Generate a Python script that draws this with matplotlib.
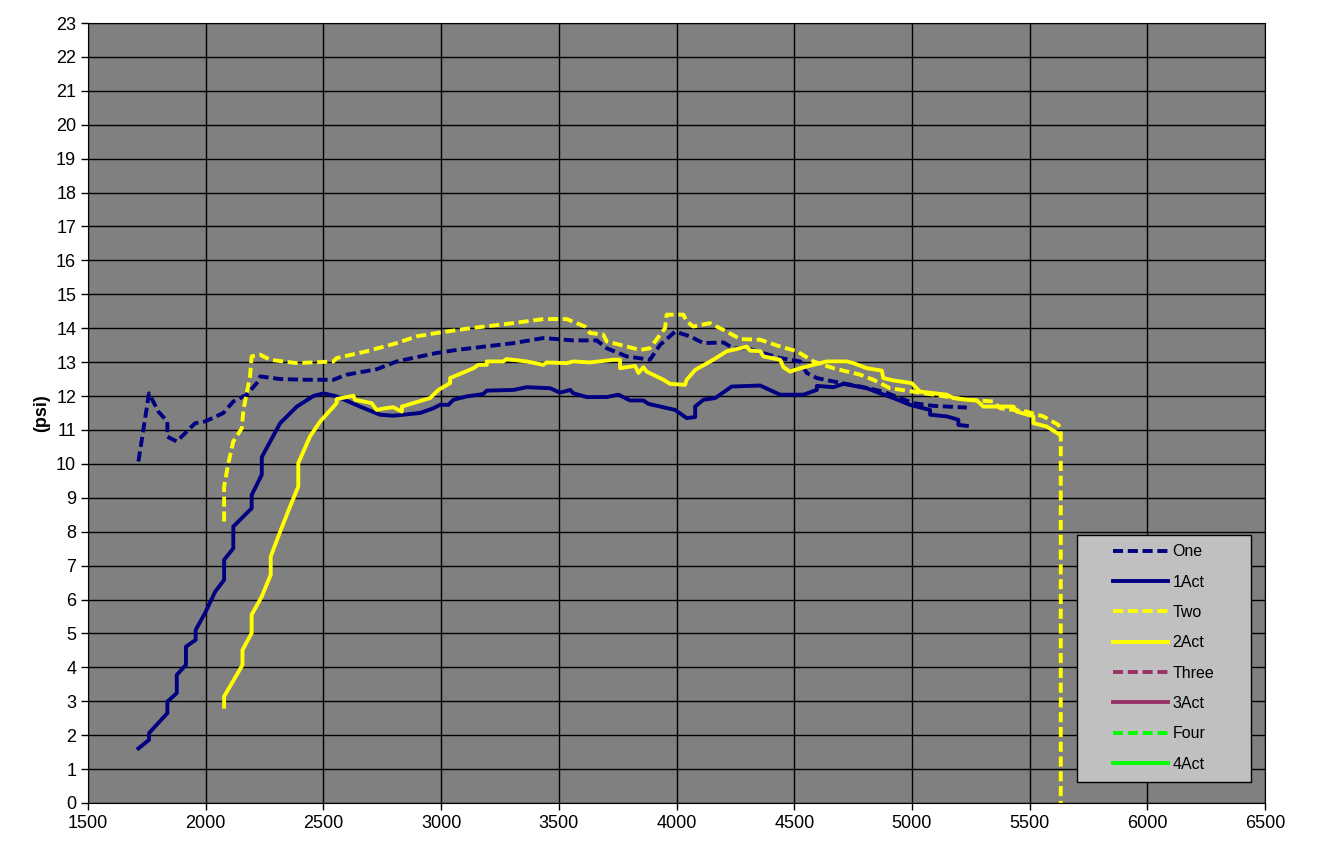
import matplotlib
matplotlib.use("Agg")
import matplotlib.pyplot as plt
from matplotlib.patches import Rectangle

plt.rcParams['font.family'] = ['Liberation Sans', 'DejaVu Sans']

# --------------------------------------------------
# Data
# --------------------------------------------------

one_rpm = [1714, 1759, 1799, 1837, 1837, 1877, 1955, 1997, 2075, 2117, 2174,
           2223, 2231, 2316, 2429, 2542, 2599, 2726, 2811, 2981, 3066, 3307,
           3349, 3434, 3562, 3661, 3703, 3788, 3887, 3930, 3994, 4057, 4114,
           4199, 4241, 4298, 4440, 4525, 4553, 4596, 4666, 4780, 4878, 5006,
           5091, 5233]
one_psi = [10.07, 12.08, 11.54, 11.25, 10.80, 10.66, 11.20, 11.25, 11.50,
           11.84, 12.04, 12.43, 12.58, 12.50, 12.48, 12.48, 12.63, 12.79,
           13.02, 13.27, 13.36, 13.56, 13.61, 13.71, 13.64, 13.64, 13.41,
           13.17, 13.07, 13.51, 13.90, 13.76, 13.56, 13.58, 13.41, 13.41,
           13.12, 13.02, 12.68, 12.53, 12.43, 12.28, 12.13, 11.79, 11.71,
           11.66]

act1_rpm = [1714, 1759, 1759, 1837, 1837, 1877, 1877, 1916, 1916, 1957, 1957,
            1997, 2040, 2078, 2078, 2117, 2117, 2195, 2195, 2238, 2238, 2316,
            2387, 2457, 2500, 2556, 2655, 2740, 2797, 2910, 2967, 2995, 3031,
            3052, 3109, 3179, 3194, 3307, 3363, 3463, 3505, 3548, 3562, 3618,
            3703, 3753, 3802, 3859, 3880, 3994, 4043, 4079, 4079, 4114, 4164,
            4234, 4355, 4440, 4539, 4596, 4596, 4666, 4709, 4808, 4865, 4921,
            4992, 5077, 5077, 5148, 5197, 5197, 5233]
act1_psi = [1.61, 1.86, 2.06, 2.65, 2.99, 3.24, 3.78, 4.07, 4.61, 4.81, 5.10,
            5.60, 6.23, 6.58, 7.17, 7.51, 8.15, 8.69, 9.08, 9.68, 10.20, 11.20,
            11.69, 12.00, 12.08, 11.99, 11.69, 11.45, 11.42, 11.50, 11.64,
            11.74, 11.74, 11.89, 11.99, 12.06, 12.16, 12.18, 12.26, 12.23,
            12.10, 12.18, 12.08, 11.97, 11.97, 12.04, 11.87, 11.87, 11.77,
            11.59, 11.35, 11.38, 11.69, 11.89, 11.94, 12.28, 12.31, 12.04,
            12.04, 12.18, 12.30, 12.26, 12.36, 12.23, 12.08, 11.94, 11.74,
            11.59, 11.45, 11.40, 11.30, 11.15, 11.12]

two_rpm = [2078, 2078, 2096, 2117, 2153, 2160, 2188, 2195, 2231, 2273, 2387,
           2542, 2556, 2684, 2811, 2896, 2981, 3123, 3307, 3434, 3533, 3611,
           3632, 3689, 3703, 3760, 3845, 3887, 3951, 3958, 4029, 4043, 4071,
           4142, 4213, 4270, 4355, 4440, 4511, 4582, 4666, 4780, 4836, 4907,
           5006, 5091, 5233, 5346, 5374, 5488, 5558, 5622, 5632, 5632]
two_psi = [8.30, 9.33, 10.02, 10.66, 11.05, 11.59, 12.58, 13.17, 13.22, 13.07,
           12.97, 13.02, 13.12, 13.32, 13.56, 13.76, 13.86, 14.00, 14.15,
           14.27, 14.27, 14.05, 13.86, 13.81, 13.61, 13.51, 13.36, 13.41,
           14.00, 14.40, 14.40, 14.20, 14.05, 14.15, 13.90, 13.68, 13.66,
           13.46, 13.32, 13.02, 12.82, 12.63, 12.48, 12.23, 12.13, 12.04,
           11.89, 11.84, 11.64, 11.54, 11.40, 11.15, 11.00, 0.0]

act2_rpm = [2078, 2078, 2156, 2156, 2195, 2195, 2238, 2276, 2276, 2316, 2358,
            2393, 2393, 2443, 2486, 2556, 2556, 2627, 2634, 2705, 2726, 2762,
            2797, 2833, 2833, 2953, 2988, 3038, 3038, 3137, 3158, 3194, 3194,
            3264, 3278, 3363, 3434, 3448, 3533, 3562, 3632, 3732, 3760, 3760,
            3824, 3838, 3859, 3873, 3944, 3972, 4036, 4043, 4079, 4156, 4213,
            4270, 4298, 4312, 4355, 4369, 4440, 4454, 4482, 4525, 4553, 4638,
            4723, 4751, 4808, 4872, 4878, 4921, 4999, 5034, 5148, 5176, 5233,
            5275, 5303, 5431, 5445, 5516, 5516, 5573, 5630]
act2_psi = [2.84, 3.14, 4.07, 4.51, 5.01, 5.55, 6.09, 6.73, 7.27, 8.00, 8.74,
            9.33, 10.02, 10.81, 11.25, 11.79, 11.91, 12.01, 11.89, 11.79,
            11.59, 11.64, 11.67, 11.54, 11.69, 11.94, 12.18, 12.38, 12.53,
            12.82, 12.92, 12.92, 13.02, 13.02, 13.09, 13.02, 12.92, 12.99,
            12.97, 13.02, 12.99, 13.07, 13.07, 12.82, 12.89, 12.68, 12.85,
            12.72, 12.48, 12.36, 12.33, 12.48, 12.77, 13.07, 13.32, 13.41,
            13.46, 13.34, 13.32, 13.17, 13.07, 12.85, 12.72, 12.82, 12.87,
            13.02, 13.02, 12.97, 12.82, 12.75, 12.53, 12.46, 12.38, 12.13,
            12.04, 11.94, 11.89, 11.87, 11.69, 11.69, 11.54, 11.40, 11.20,
            11.10, 10.85]

x_ticks = list(range(1500, 6501, 500))
y_ticks = list(range(0, 24))

NAVY = "#000080"
YELLOW = "#FFFF00"
PLUM = "#993366"
GREEN = "#00FF00"

# --------------------------------------------------
# Figure
# --------------------------------------------------

fig = plt.figure(figsize=(13.3, 8.68), dpi=100)
ax = fig.add_axes([0.0662, 0.0749, 0.8850, 0.8986])
ax.set_facecolor("#808080")

lw = 2.8
dash = (2.6, 1.2)

ax.plot(one_rpm, one_psi, color=NAVY, lw=lw, dashes=dash, label="One")
ax.plot(act1_rpm, act1_psi, color=NAVY, lw=lw, label="1Act")
ax.plot(two_rpm, two_psi, color=YELLOW, lw=lw, dashes=dash, label="Two")
ax.plot(act2_rpm, act2_psi, color=YELLOW, lw=lw, label="2Act")
ax.plot([], [], color=PLUM, lw=lw, dashes=dash, label="Three")
ax.plot([], [], color=PLUM, lw=lw, label="3Act")
ax.plot([], [], color=GREEN, lw=lw, dashes=dash, label="Four")
ax.plot([], [], color=GREEN, lw=lw, label="4Act")

ax.set_xlim(1500, 6500)
ax.set_ylim(0, 23)
ax.set_xticks(x_ticks)
ax.set_yticks(y_ticks)
ax.tick_params(labelsize=13, direction="out", length=5, width=1)
ax.grid(True, color="black", lw=1)
ax.set_axisbelow(True)
for s in ax.spines.values():
    s.set_color("black")

ax.set_ylabel("(psi)", fontsize=13, fontweight="bold", labelpad=4)

# --------------------------------------------------
# Legend (box drawn separately so the left padding matches)
# --------------------------------------------------

box = Rectangle(
    (0.840, 0.027), 0.148, 0.317,
    transform=ax.transAxes,
    facecolor="#C0C0C0",
    edgecolor="black",
    lw=1,
    zorder=5
)
ax.add_patch(box)

leg = ax.legend(
    loc="upper left",
    bbox_to_anchor=(0.863, 0.344),
    fontsize=11.5,
    handlelength=3.4,
    labelspacing=0.96,
    borderpad=0.6,
    handletextpad=0.3,
    frameon=False,
    borderaxespad=0,
)
leg.set_zorder(6)

fig.savefig("out.png", dpi=100, facecolor="white")
